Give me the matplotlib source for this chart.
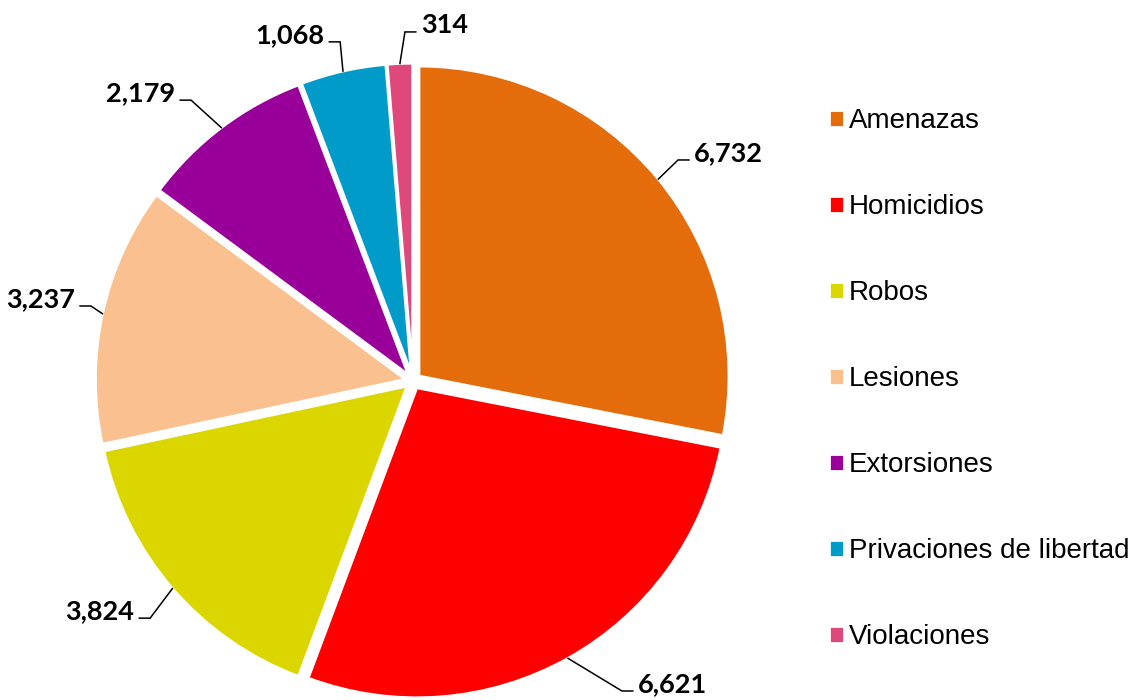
import matplotlib
matplotlib.use("Agg")
import matplotlib.pyplot as plt
import numpy as np

categories = ["Amenazas", "Homicidios", "Robos", "Lesiones", "Extorsiones",
              "Privaciones de libertad", "Violaciones"]
values = [6732, 6621, 3824, 3237, 2179, 1068, 314]
value_labels = ["6,732", "6,621", "3,824", "3,237", "2,179", "1,068", "314"]
colors = ["#E46C0A", "#FF0000", "#DCD600", "#FAC090", "#990099", "#009BC8", "#DE487A"]

# leader-line elbow positions (axes data units) and side of the horizontal tail
elbows = [(0.855, 0.713), (0.674, -1.0), (-0.848, -0.765), (-1.039, 0.242),
          (-0.716, 0.906), (-0.235, 1.094), (-0.026, 1.126)]
sides = [1, 1, -1, -1, -1, -1, 1]

W, H = 1136, 700
fig = plt.figure(figsize=(W / 100, H / 100), dpi=100)

cx, cy, R = 413, 381, 310
half = 1.2 * R
ax = fig.add_axes([(cx - half) / W, (H - cy - half) / H, 2 * half / W, 2 * half / H])

explode = 0.025
wedges, _ = ax.pie(values, colors=colors, startangle=90, counterclock=False,
                   radius=1.0, explode=[explode] * len(values),
                   wedgeprops=dict(edgecolor="white", linewidth=2.0))
ax.set_xlim(-1.2, 1.2)
ax.set_ylim(-1.2, 1.2)
ax.set_aspect("equal")
ax.axis("off")
for w in wedges:
    w.set_clip_on(False)

label_font = dict(family="Lato", weight="bold", size=19.5, color="black")
for w, lab, (ex, ey), s in zip(wedges, value_labels, elbows, sides):
    mid = np.deg2rad((w.theta1 + w.theta2) / 2)
    r0 = 1.0 + explode
    sx, sy = r0 * np.cos(mid), r0 * np.sin(mid)
    tx = ex + s * 0.035
    ax.plot([sx, ex, tx], [sy, ey, ey], color="black", lw=1.1, clip_on=False,
            solid_joinstyle="miter")
    ax.text(tx + s * 0.016, ey - 0.003, lab, ha="left" if s > 0 else "right",
            va="baseline", **label_font)

fig.legend(wedges, categories, loc="center left",
           bbox_to_anchor=(829 / W, 1 - 379 / H), frameon=False,
           prop=dict(family="Liberation Sans", size=20),
           handlelength=0.55, handleheight=0.55, handletextpad=0.16,
           labelspacing=2.16, borderpad=0, borderaxespad=0)

fig.savefig("out.png", dpi=100, facecolor="white")
